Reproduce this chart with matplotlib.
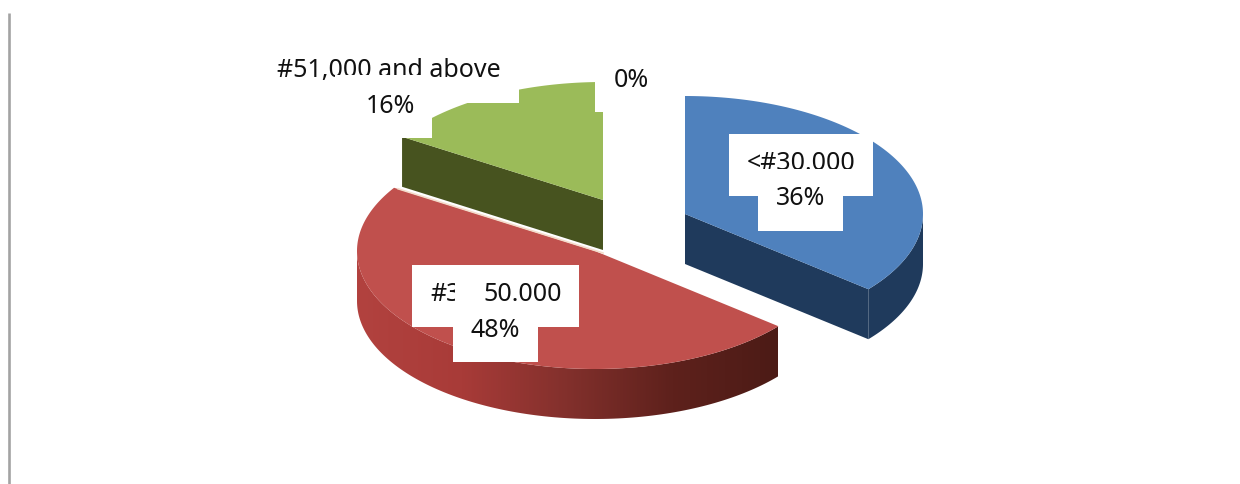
import numpy as np
import matplotlib
matplotlib.use("Agg")
import matplotlib.pyplot as plt
from matplotlib.colors import LinearSegmentedColormap
from matplotlib.patches import PathPatch, Polygon, Rectangle
from matplotlib.path import Path

# Income bands and their share of respondents
categories = ["<#30.000", "#3", "50.000", "#51,000 and above"]
shares = [36, 48, 16]
share_labels = ["36%", "48%", "16%", "0%"]

plt.rcParams["font.family"] = ["Noto Sans", "DejaVu Sans"]

# Pie geometry, in pixels
RX = 238
RY = 118
DEPTH = 50
centres = [(685, 214), (595, 251), (603, 200)]
top_colors = ["#4f81bd", "#c0504d", "#9bbb59"]
side_colors = ["#1f3a5c", "#8a2f2c", "#47531f"]


def rim(centre, angles):
    # angles run clockwise from 12 o'clock
    a = np.radians(angles)
    return np.column_stack([centre[0] + RX * np.sin(a), centre[1] - RY * np.cos(a)])


def arc_wall(centre, a0, a1):
    upper = rim(centre, np.linspace(a0, a1, 120))
    lower = upper[::-1] + [0, DEPTH]
    return np.vstack([upper, lower])


def flat_face(p, q):
    p, q = np.array(p, dtype=float), np.array(q, dtype=float)
    return np.array([p, q, q + [0, DEPTH], p + [0, DEPTH]])


fig = plt.figure(figsize=(12.4, 4.84), dpi=100)
ax = fig.add_axes([0, 0, 1, 1])

# Slice boundaries from the shares
edges = np.concatenate([[0], np.cumsum(shares)]) * 3.6

# green slice: cut face towards the viewer, then top
c = centres[2]
start = rim(c, [edges[2]])[0]
ax.add_patch(Polygon(flat_face(start, c), fc=side_colors[2], ec="none", zorder=2))
arc = rim(c, np.linspace(edges[2], edges[3], 120))
ax.add_patch(Polygon(np.vstack([[c], arc]), fc=top_colors[2], ec="none", zorder=3))

# red slice: outer wall with a left-to-right shading, then top
c = centres[1]
wall_pts = arc_wall(c, edges[1], 270)
wall_path = Path(np.vstack([wall_pts, wall_pts[0]]), closed=True)
shade = LinearSegmentedColormap.from_list(
    "wall", ["#b2423f", "#a83b38", "#82302c", "#5e211c", "#4c1b16"])
im = ax.imshow(np.linspace(0, 1, 256).reshape(1, -1), cmap=shade, aspect="auto",
               extent=(c[0] - RX, c[0] + 183, 430, 240), zorder=4)
im.set_clip_path(PathPatch(wall_path, transform=ax.transData))
arc = rim(c, np.linspace(edges[1], edges[2], 200))
ax.add_patch(Polygon(np.vstack([[c], arc]), fc=top_colors[1], ec="none", zorder=5))
ax.plot([arc[-1][0] + 4, c[0] + 8], [arc[-1][1] + 1, c[1] + 2], color="#f4dccb", lw=1.2, zorder=6)

# blue slice: outer wall and cut face, then top
c = centres[0]
end = rim(c, [edges[1]])[0]
ax.add_patch(Polygon(arc_wall(c, 90, edges[1]), fc=side_colors[0], ec="none", zorder=4))
ax.add_patch(Polygon(flat_face(c, end), fc=side_colors[0], ec="none", zorder=4))
arc = rim(c, np.linspace(edges[0], edges[1], 120))
ax.add_patch(Polygon(np.vstack([[c], arc]), fc=top_colors[0], ec="none", zorder=5))

# white label backgrounds (x0, y0, x1, y1)
boxes = [(729, 134, 873, 196), (758, 196, 843, 231),
         (412, 265, 579, 327), (453, 327, 538, 362),
         (270, 50, 519, 103), (348, 103, 432, 138),
         (595, 60, 670, 112)]
for x0, y0, x1, y1 in boxes:
    ax.add_patch(Rectangle((x0, y0), x1 - x0, y1 - y0, fc="white", ec="none", zorder=7))

text_style = dict(fontsize=18, color="#111111", va="baseline", zorder=8)
ax.text(801, 170, categories[0], ha="center", **text_style)
ax.text(801, 205, share_labels[0], ha="center", **text_style)
ax.text(430, 301, categories[1], ha="left", **text_style)
ax.text(483, 301, categories[2], ha="left", **text_style)
ax.text(495, 337, share_labels[1], ha="center", **text_style)
ax.text(389, 77, categories[3], ha="center", **text_style)
ax.text(390, 113, share_labels[2], ha="center", **text_style)
ax.text(631, 87, share_labels[3], ha="center", **text_style)

# later label boxes sit over the bottoms of the first text lines
masks = [(758, 169, 857, 185), (335, 75, 424, 91), (455, 270, 483, 316)]
for x0, y0, x1, y1 in masks:
    ax.add_patch(Rectangle((x0, y0), x1 - x0, y1 - y0, fc="white", ec="none", zorder=9))

# frame edge on the left
ax.plot([8.5, 8.5], [13, 484], color="#a3a3a3", lw=1.9, zorder=1, solid_capstyle="butt")

ax.set_xlim(0, 1240)
ax.set_ylim(484, 0)
ax.axis("off")

fig.savefig("out.png", dpi=100, facecolor="white")
